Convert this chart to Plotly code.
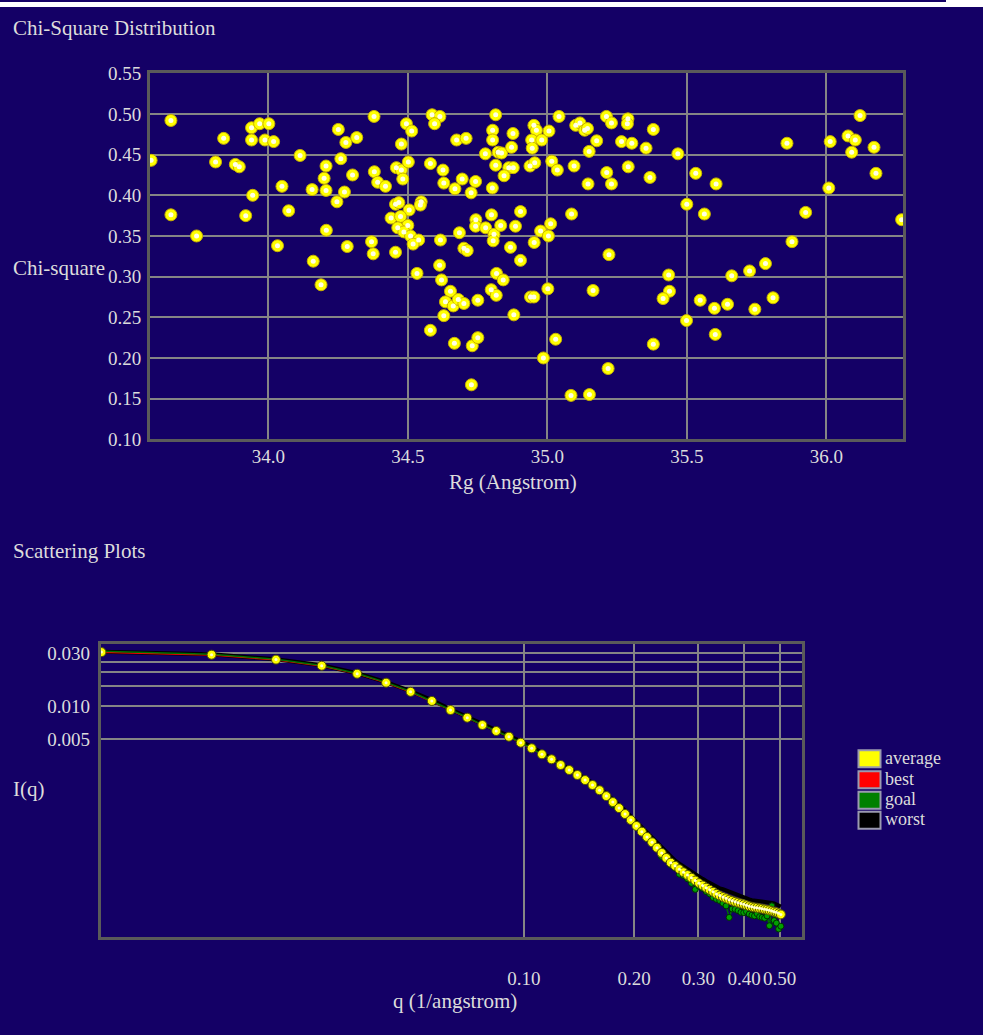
import plotly.graph_objects as go

W, H = 983, 1035
BG = '#140066'
TXT = '#dcdcdc'
FONT = 'Liberation Serif'
GRID = '#858585'
FRAME = '#5a5a5a'

# ---------------- Chi-square distribution data ----------------
rg = [33.580, 33.651, 33.651, 33.743, 33.811, 33.840, 33.882, 33.896, 33.919, 33.940,
      33.940, 33.944, 33.969, 33.988, 34.002, 34.019, 34.033, 34.049, 34.073, 34.114,
      34.157, 34.161, 34.189, 34.207, 34.200, 34.207, 34.208, 34.246, 34.251, 34.260,
      34.273, 34.278, 34.283, 34.302, 34.317, 34.370, 34.376, 34.379, 34.380, 34.392,
      34.420, 34.495, 34.514, 34.477, 34.459, 34.477, 34.502, 34.482, 34.456, 34.468,
      34.548, 34.545, 34.505, 34.440, 34.474, 34.500, 34.464, 34.486, 34.510, 34.539,
      34.519, 34.456, 34.581, 34.587, 34.615, 34.596, 34.626, 34.629, 34.675, 34.709,
      34.695, 34.669, 34.743, 34.727, 34.617, 34.685, 34.744, 34.743, 34.779, 34.800,
      34.809, 34.806, 34.833, 34.886, 34.904, 34.701, 34.713, 34.868, 34.953, 34.976,
      35.004, 35.012, 35.087, 35.221, 34.904, 34.815, 34.804, 34.804, 34.877, 34.778,
      34.824, 34.836, 34.872, 34.815, 34.862, 34.878, 34.845, 34.803, 34.952, 34.961,
      34.944, 34.980, 34.946, 35.006, 35.042, 34.938, 34.955, 35.016, 35.036, 35.096,
      35.102, 35.117, 35.134, 35.144, 35.177, 35.150, 35.212, 35.230, 35.289, 35.287,
      35.266, 35.303, 35.213, 35.230, 35.146, 35.290, 35.354, 35.380, 35.368, 35.468,
      35.532, 35.500,
      35.859, 36.014, 36.078, 36.104, 36.121, 36.091, 36.171, 36.178, 36.009, 36.270,
      35.926, 35.877, 35.605, 35.563,
      35.782, 35.725, 35.661, 35.548, 35.599, 35.646, 35.744, 35.809, 35.499, 35.602,
      34.533, 34.614, 34.621, 34.653, 34.635, 34.663, 34.681, 34.701, 34.751, 34.629,
      34.581, 34.667, 34.731, 34.751, 34.728, 34.818, 34.842, 34.799, 34.817, 34.880,
      34.940, 34.952, 35.002, 35.030, 34.986, 35.085, 35.151, 35.164, 35.218, 35.380,
      35.435, 35.438, 35.415]

chi = [0.443, 0.492, 0.376, 0.350, 0.441, 0.470, 0.438, 0.435, 0.375, 0.483,
       0.468, 0.400, 0.488, 0.468, 0.488, 0.466, 0.338, 0.411, 0.381, 0.449,
       0.407, 0.319, 0.290, 0.436, 0.421, 0.406, 0.357, 0.392, 0.481, 0.445,
       0.404, 0.465, 0.337, 0.425, 0.471, 0.343, 0.328, 0.497, 0.429, 0.416,
       0.411, 0.488, 0.479, 0.463, 0.434, 0.431, 0.441, 0.420, 0.389, 0.391,
       0.392, 0.388, 0.382, 0.372, 0.374, 0.363, 0.360, 0.355, 0.350, 0.345,
       0.340, 0.330, 0.439, 0.499, 0.497, 0.488, 0.431, 0.415, 0.468, 0.470,
       0.420, 0.408, 0.417, 0.403, 0.345, 0.354, 0.370, 0.362, 0.360, 0.376,
       0.352, 0.344, 0.363, 0.362, 0.380, 0.335, 0.332, 0.336, 0.342, 0.356,
       0.350, 0.365, 0.377, 0.327, 0.320, 0.499, 0.480, 0.468, 0.476, 0.451,
       0.453, 0.452, 0.459, 0.437, 0.434, 0.434, 0.424, 0.409, 0.486, 0.480,
       0.468, 0.468, 0.458, 0.479, 0.497, 0.436, 0.440, 0.442, 0.431, 0.436,
       0.486, 0.489, 0.480, 0.482, 0.467, 0.454, 0.497, 0.489, 0.494, 0.488,
       0.466, 0.464, 0.428, 0.414, 0.414, 0.435, 0.458, 0.481, 0.422, 0.451,
       0.427, 0.389,
       0.464, 0.466, 0.473, 0.468, 0.498, 0.453, 0.459, 0.427, 0.409, 0.370,
       0.379, 0.343, 0.414, 0.377,
       0.316, 0.307, 0.301, 0.271, 0.261, 0.266, 0.260, 0.274, 0.246, 0.229,
       0.304, 0.314, 0.296, 0.282, 0.269, 0.264, 0.272, 0.267, 0.271, 0.252,
       0.234, 0.218, 0.215, 0.225, 0.167, 0.304, 0.296, 0.284, 0.277, 0.253,
       0.275, 0.275, 0.285, 0.223, 0.200, 0.154, 0.155, 0.283, 0.187, 0.217,
       0.302, 0.282, 0.273]

rg_ticks = [34.0, 34.5, 35.0, 35.5, 36.0]
rg_labels = ['34.0', '34.5', '35.0', '35.5', '36.0']
chi_ticks = [0.10, 0.15, 0.20, 0.25, 0.30, 0.35, 0.40, 0.45, 0.50, 0.55]
chi_labels = ['0.10', '0.15', '0.20', '0.25', '0.30', '0.35', '0.40', '0.45', '0.50', '0.55']

# ---------------- Scattering plot data ----------------
q = [0.007, 0.014, 0.021, 0.028, 0.035, 0.042, 0.049, 0.056, 0.063, 0.070,
     0.077, 0.084, 0.091, 0.098, 0.105, 0.112, 0.119, 0.126, 0.133, 0.140,
     0.147, 0.154, 0.161, 0.168, 0.175, 0.182, 0.189, 0.196, 0.203, 0.210,
     0.217, 0.224, 0.231, 0.238, 0.245, 0.252, 0.259, 0.266, 0.273, 0.280,
     0.287, 0.294, 0.301, 0.308, 0.315, 0.322, 0.329, 0.336, 0.343, 0.350,
     0.357, 0.364, 0.371, 0.378, 0.385, 0.392, 0.399, 0.406, 0.413, 0.420,
     0.427, 0.434, 0.441, 0.448, 0.455, 0.462, 0.469, 0.476, 0.483, 0.490,
     0.497, 0.504]

average = [0.0305, 0.0289, 0.0261, 0.0230, 0.0195, 0.0162, 0.0134, 0.0111, 0.0092, 0.00785,
           0.00675, 0.00596, 0.00530, 0.00468, 0.00417, 0.00368, 0.00332, 0.00295, 0.00266, 0.00240,
           0.00216, 0.00195, 0.00175, 0.00155, 0.00137, 0.00121, 0.00107, 0.000946, 0.000836, 0.000743,
           0.000665, 0.000596, 0.000533, 0.000478, 0.000431, 0.000391, 0.000366, 0.000342, 0.000321, 0.000303,
           0.000286, 0.000270, 0.000256, 0.000244, 0.000233, 0.000223, 0.000214, 0.000205, 0.000198, 0.000192,
           0.000187, 0.000182, 0.000178, 0.000174, 0.000171, 0.000168, 0.000165, 0.000162, 0.000159, 0.000157,
           0.000155, 0.000154, 0.000152, 0.000151, 0.000149, 0.000148, 0.000146, 0.000144, 0.000142, 0.000140,
           0.000137, 0.000134]

best = [0.0303, 0.0287, 0.0259, 0.0228, 0.0194, 0.0161, 0.0133, 0.0110, 0.00915, 0.00780,
        0.00671, 0.00592, 0.00527, 0.00465, 0.00414, 0.00366, 0.00330, 0.00293, 0.00264, 0.00238,
        0.00214, 0.00193, 0.00173, 0.00153, 0.00135, 0.00119, 0.00105, 0.000930, 0.000822, 0.000730,
        0.000652, 0.000584, 0.000522, 0.000467, 0.000421, 0.000381, 0.000356, 0.000332, 0.000311, 0.000293,
        0.000276, 0.000260, 0.000246, 0.000234, 0.000223, 0.000213, 0.000204, 0.000195, 0.000188, 0.000182,
        0.000177, 0.000172, 0.000168, 0.000164, 0.000161, 0.000158, 0.000155, 0.000152, 0.000149, 0.000147,
        0.000145, 0.000144, 0.000142, 0.000141, 0.000139, 0.000138, 0.000136, 0.000134, 0.000132, 0.000130,
        0.000127, 0.000124]

goal = [0.0310, 0.0292, 0.0263, 0.0231, 0.0196, 0.0163, 0.0135, 0.0111, 0.00925, 0.00788,
        0.00676, 0.00598, 0.00529, 0.00470, 0.00415, 0.00369, 0.00330, 0.00297, 0.00264, 0.00241,
        0.00214, 0.00196, 0.00173, 0.00156, 0.00129, 0.00122, 0.00104, 0.000950, 0.000815, 0.000750,
        0.000640, 0.000600, 0.000525, 0.000443, 0.000420, 0.000373, 0.000350, 0.000308, 0.000300, 0.000280,
        0.000255, 0.000225, 0.000240, 0.000230, 0.000215, 0.000205, 0.000190, 0.000183, 0.000178, 0.000169,
        0.000160, 0.000126, 0.000150, 0.000149, 0.000145, 0.000140, 0.000139, 0.000142, 0.000135, 0.000132,
        0.000130, 0.000136, 0.000128, 0.000126, 0.000124, 0.000130, 0.000106, 0.000160, 0.000118, 0.000112,
        0.0000991, 0.000105]

worst = [0.0307, 0.0291, 0.0263, 0.0232, 0.0197, 0.0164, 0.0136, 0.0113, 0.00935, 0.00800,
         0.00690, 0.00610, 0.00544, 0.00481, 0.00430, 0.00380, 0.00344, 0.00306, 0.00277, 0.00251,
         0.00226, 0.00205, 0.00184, 0.00164, 0.00146, 0.00129, 0.00115, 0.00102, 0.000905, 0.000807,
         0.000725, 0.000652, 0.000585, 0.000527, 0.000477, 0.000435, 0.000408, 0.000383, 0.000361, 0.000342,
         0.000324, 0.000308, 0.000293, 0.000280, 0.000268, 0.000257, 0.000247, 0.000238, 0.000230, 0.000226,
         0.000220, 0.000214, 0.000208, 0.000203, 0.000198, 0.000194, 0.000190, 0.000187, 0.000183, 0.000180,
         0.000179, 0.000178, 0.000177, 0.000176, 0.000175, 0.000174, 0.000172, 0.000170, 0.000168, 0.000165,
         0.000162, 0.000158]

q_ticks = [0.10, 0.20, 0.30, 0.40, 0.50]
q_labels = ['0.10', '0.20', '0.30', '0.40', '0.50']
i_ticks = [0.005, 0.010, 0.015, 0.020, 0.025, 0.030]
i_labels = ['0.005', '0.010', '', '', '', '0.030']

legend_names = ['average', 'best', 'goal', 'worst']
legend_colors = ['#ffff00', '#ff0000', '#008000', '#000000']


def fx(p):
    return p / W


def fy(p):
    return 1 - p / H


fig = go.Figure()

# top scatter
fig.add_trace(go.Scatter(x=rg, y=chi, mode='markers', xaxis='x', yaxis='y',
                         marker=dict(size=12, color='#ffff00', line=dict(width=1, color='#c8b000')),
                         hoverinfo='x+y'))
fig.add_trace(go.Scatter(x=rg, y=chi, mode='markers', xaxis='x', yaxis='y',
                         marker=dict(size=5, color='#ffffe6'), hoverinfo='skip'))

# scattering plots
fig.add_trace(go.Scatter(x=q, y=worst, mode='lines', name='worst', xaxis='x2', yaxis='y2',
                         line=dict(color='#000000', width=4)))
fig.add_trace(go.Scatter(x=q, y=best, mode='lines', name='best', xaxis='x2', yaxis='y2',
                         line=dict(color='#ff0000', width=1.2)))
fig.add_trace(go.Scatter(x=q, y=goal, mode='lines+markers', name='goal', xaxis='x2', yaxis='y2',
                         line=dict(color='#007000', width=1.5),
                         marker=dict(size=6, color='#00a000', line=dict(width=1, color='#003000'))))
fig.add_trace(go.Scatter(x=q, y=average, mode='markers', name='average', xaxis='x2', yaxis='y2',
                         marker=dict(size=9, color='#ffff00', line=dict(width=1, color='#505000'))))
fig.add_trace(go.Scatter(x=q, y=average, mode='markers', xaxis='x2', yaxis='y2',
                         marker=dict(size=3, color='#ffffd0'), hoverinfo='skip'))

tickfont = dict(family=FONT, size=19, color=TXT)
common = dict(showgrid=True, gridcolor=GRID, gridwidth=1.5, showline=True, linecolor=FRAME,
              linewidth=3, mirror=True, zeroline=False, ticks='', tickfont=tickfont, tickmode='array',
              automargin=False)

fig.update_layout(
    width=W, height=H,
    margin=dict(l=0, r=0, t=0, b=0, pad=0, autoexpand=False),
    paper_bgcolor=BG, plot_bgcolor=BG,
    showlegend=False,
    font=dict(family=FONT, color=TXT),
    xaxis=dict(domain=[fx(150), fx(903.3)], range=[33.576, 36.276], anchor='y',
               tickvals=rg_ticks, ticktext=rg_labels, ticklabelstandoff=-2, **common),
    yaxis=dict(domain=[fy(439.3), fy(73.3)], range=[0.10, 0.55], anchor='x',
               tickvals=chi_ticks, ticktext=chi_labels, ticklabelstandoff=2, **common),
    xaxis2=dict(domain=[fx(100.7), fx(802.3)], type='log', range=[-2.157, -0.239], anchor='y2',
                tickvals=q_ticks, ticktext=q_labels, ticklabelstandoff=22, **common),
    yaxis2=dict(domain=[fy(936.7), fy(643.5)], type='log', range=[-4.073, -1.4385], anchor='x2',
                tickvals=i_ticks, ticktext=i_labels, ticklabelstandoff=4, **common),
)

ann = []


def text(x, y, s, size=21, xanchor='left'):
    ann.append(dict(x=fx(x), y=fy(y), xref='paper', yref='paper', text=s, showarrow=False,
                    xanchor=xanchor, yanchor='middle', font=dict(family=FONT, size=size, color=TXT)))


text(11, 28, 'Chi-Square Distribution')
text(11, 268, 'Chi-square')
text(513, 482, 'Rg (Angstrom)', xanchor='center')
text(11, 551, 'Scattering Plots')
text(11, 789, 'I(q)')
text(455, 1001, 'q (1/angstrom)', xanchor='center')

shapes = [
    dict(type='rect', xref='paper', yref='paper', x0=0, x1=1, y0=fy(7), y1=1,
         fillcolor='#ffffff', line=dict(width=0), layer='above'),
    dict(type='rect', xref='paper', yref='paper', x0=0, x1=fx(946), y0=fy(2), y1=1,
         fillcolor=BG, line=dict(width=0), layer='above'),
]

centers = [758.8, 779.7, 800.2, 820.2]
for name, col, cy in zip(legend_names, legend_colors, centers):
    shapes.append(dict(type='rect', xref='paper', yref='paper', x0=fx(858.5), x1=fx(880.5),
                       y0=fy(cy + 8.5), y1=fy(cy - 8.5), fillcolor=col,
                       line=dict(color='#9a9ab0', width=2)))
    text(883, cy - 1, name, size=18)

fig.update_layout(annotations=ann, shapes=shapes)

fig.write_html('out.html', config={'displayModeBar': False},
               post_script="document.body.style.margin='0';document.body.style.overflow='hidden';")
